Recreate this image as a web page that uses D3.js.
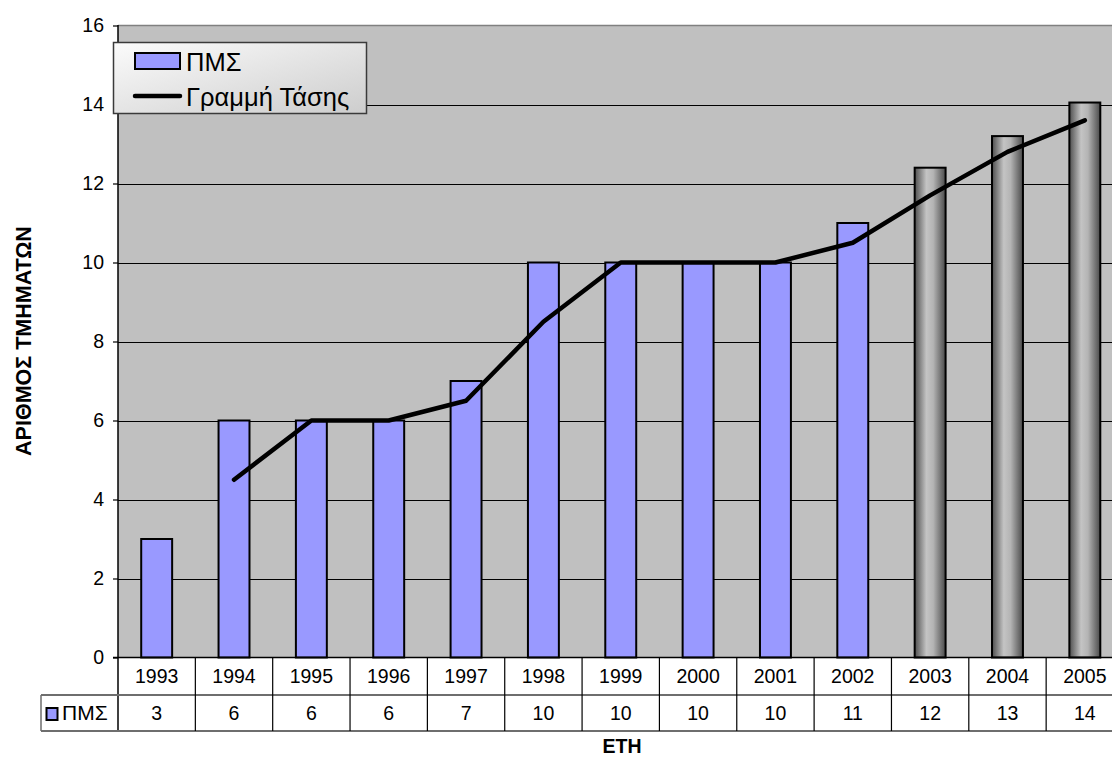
<!DOCTYPE html>
<html>
<head>
<meta charset="utf-8">
<script src="https://cdn.jsdelivr.net/npm/d3@7/dist/d3.min.js"></script>
<style>
html,body{margin:0;padding:0;background:#fff;overflow:hidden;}
svg{display:block;font-family:"Liberation Sans",Arial,sans-serif;}
</style>
</head>
<body>
<svg id="chart" width="1112" height="758"></svg>
<script>
// ---- data ----
const years = ["1993","1994","1995","1996","1997","1998","1999","2000","2001","2002","2003","2004","2005"];
const pmsValues = [3, 6, 6, 6, 7, 10, 10, 10, 10, 11, 12.4, 13.2, 14.05];
const trendValues = [null, 4.5, 6, 6, 6.5, 8.5, 10, 10, 10, 10.5, 11.7, 12.8, 13.6];
const projectedYears = ["2003","2004","2005"];
const yTicks = [0, 2, 4, 6, 8, 10, 12, 14, 16];
const seriesName = "ΠΜΣ";
const trendName = "Γραμμή Τάσης";
const yTitle = "ΑΡΙΘΜΟΣ ΤΜΗΜΑΤΩΝ";
const xTitle = "ΕΤΗ";

(function () {
// ---- layout ----
const svg = d3.select("#chart");
const pLeft = 118, pRight = 1123.5, pTop = 25.5, pBottom = 657.5;
const row1 = 695, row2 = 731, tableLeft = 41;

const x = d3.scaleBand().domain(years).range([pLeft, pRight]).padding(0);
const y = d3.scaleLinear().domain([0, 16]).range([pBottom, pTop]);
const barW = x.bandwidth() * 0.4;

const defs = svg.append("defs");
const g1 = defs.append("linearGradient").attr("id", "gray").attr("x1", "0").attr("x2", "1").attr("y1", "0").attr("y2", "0");
[[0, "#4e4e4e"], [0.38, "#c4c4c4"], [0.6, "#b4b4b4"], [1, "#4a4a4a"]].forEach(s => g1.append("stop").attr("offset", s[0]).attr("stop-color", s[1]));
const g2 = defs.append("linearGradient").attr("id", "leg").attr("x1", "0").attr("x2", "1").attr("y1", "0").attr("y2", "1");
[[0, "#fbfbfb"], [1, "#cdcdcd"]].forEach(s => g2.append("stop").attr("offset", s[0]).attr("stop-color", s[1]));

// plot background
svg.append("rect").attr("x", pLeft).attr("y", pTop).attr("width", pRight - pLeft).attr("height", pBottom - pTop)
  .attr("fill", "#c0c0c0");
svg.append("line").attr("x1", pLeft).attr("x2", pRight).attr("y1", pTop).attr("y2", pTop)
  .attr("stroke", "#808080").attr("stroke-width", 1.5);

// gridlines
svg.append("g").selectAll("line").data(yTicks.filter(t => t > 0 && t < 16)).join("line")
  .attr("x1", pLeft).attr("x2", pRight)
  .attr("y1", d => Math.round(y(d)) + 0.5).attr("y2", d => Math.round(y(d)) + 0.5)
  .attr("stroke", "#000").attr("stroke-width", 1.2);

// bars
svg.append("g").selectAll("rect").data(years).join("rect")
  .attr("x", d => x(d) + (x.bandwidth() - barW) / 2)
  .attr("width", barW)
  .attr("y", (d, i) => y(pmsValues[i]))
  .attr("height", (d, i) => pBottom - y(pmsValues[i]))
  .attr("fill", d => projectedYears.includes(d) ? "url(#gray)" : "#9999ff")
  .attr("stroke", "#000").attr("stroke-width", 2);

// trend line
const line = d3.line()
  .defined(d => d.v != null)
  .x(d => x(d.year) + x.bandwidth() / 2)
  .y(d => y(d.v));
svg.append("path")
  .datum(years.map((yr, i) => ({ year: yr, v: trendValues[i] })))
  .attr("d", line)
  .attr("fill", "none").attr("stroke", "#000").attr("stroke-width", 4.5)
  .attr("stroke-linejoin", "round").attr("stroke-linecap", "round");

// y axis
const yAxis = d3.axisLeft(y).tickValues(yTicks).tickSize(5).tickPadding(9).tickFormat(d3.format("d"));
const ga = svg.append("g").attr("transform", `translate(${pLeft},0)`).call(yAxis);
ga.select(".domain").remove();
ga.selectAll(".tick line").attr("stroke", "#000").attr("stroke-width", 1.2);
ga.selectAll(".tick text").attr("font-size", 19.5).attr("fill", "#000")
  .attr("font-family", "Liberation Sans, Arial, sans-serif");
svg.append("line").attr("x1", pLeft).attr("x2", pLeft).attr("y1", pTop - 0.5).attr("y2", row2)
  .attr("stroke", "#000").attr("stroke-width", 1.5);

// data table
const tbl = svg.append("g");
tbl.append("line").attr("x1", pLeft - 5).attr("x2", pRight).attr("y1", pBottom).attr("y2", pBottom)
  .attr("stroke", "#000").attr("stroke-width", 1.5);
[row1, row2].forEach(yy => tbl.append("line").attr("x1", tableLeft).attr("x2", pRight).attr("y1", yy).attr("y2", yy)
  .attr("stroke", "#6e6e6e").attr("stroke-width", 2));
tbl.append("line").attr("x1", tableLeft).attr("x2", tableLeft).attr("y1", row1).attr("y2", row2)
  .attr("stroke", "#6e6e6e").attr("stroke-width", 1.5);
tbl.selectAll("line.sep").data(years.slice(1)).join("line").attr("class", "sep")
  .attr("x1", d => x(d)).attr("x2", d => x(d)).attr("y1", pBottom).attr("y2", row2)
  .attr("stroke", "#000").attr("stroke-width", 1.2);
tbl.selectAll("text.yr").data(years).join("text").attr("class", "yr")
  .attr("x", d => x(d) + x.bandwidth() / 2).attr("y", 683)
  .attr("text-anchor", "middle").attr("font-size", 19.5).text(d => d);
tbl.selectAll("text.val").data(years).join("text").attr("class", "val")
  .attr("x", d => x(d) + x.bandwidth() / 2).attr("y", 720)
  .attr("text-anchor", "middle").attr("font-size", 19.5).text((d, i) => d3.format(".0f")(pmsValues[i]));
tbl.append("rect").attr("x", 46.5).attr("y", 708).attr("width", 11).attr("height", 12)
  .attr("fill", "#9999ff").attr("stroke", "#000").attr("stroke-width", 2);
tbl.append("text").attr("x", 62).attr("y", 720).attr("font-size", 21).text(seriesName);

// axis titles
svg.append("text").attr("transform", "translate(31,341) rotate(-90)")
  .attr("text-anchor", "middle").attr("font-size", 21.5).attr("font-weight", "bold").text(yTitle);
svg.append("text").attr("x", 622).attr("y", 753)
  .attr("text-anchor", "middle").attr("font-size", 19.5).attr("font-weight", "bold").text(xTitle);

// legend
const lg = svg.append("g");
lg.append("rect").attr("x", 113.5).attr("y", 42.5).attr("width", 253).attr("height", 71)
  .attr("fill", "url(#leg)").attr("stroke", "#3a3a3a").attr("stroke-width", 1.5);
lg.append("rect").attr("x", 135).attr("y", 53).attr("width", 45).attr("height", 16)
  .attr("fill", "#9999ff").attr("stroke", "#000").attr("stroke-width", 2);
lg.append("line").attr("x1", 135).attr("x2", 180).attr("y1", 96).attr("y2", 96)
  .attr("stroke", "#000").attr("stroke-width", 4.5).attr("stroke-linecap", "round");
lg.append("text").attr("x", 186).attr("y", 71).attr("font-size", 25.5).text(seriesName);
lg.append("text").attr("x", 186).attr("y", 106).attr("font-size", 25.5).text(trendName);
})();
</script>
</body>
</html>
